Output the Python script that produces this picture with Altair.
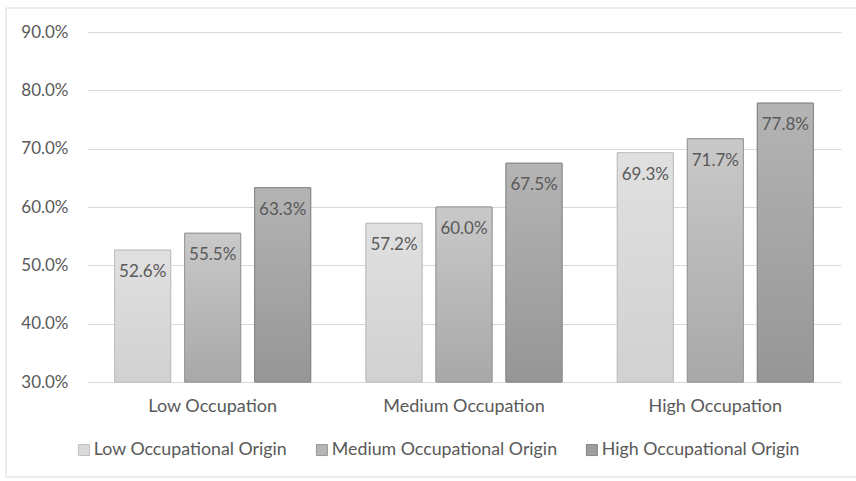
import altair as alt
import pandas as pd

# Share of respondents by occupation group and occupational origin
occupations = ["Low Occupation", "Medium Occupation", "High Occupation"]
origins = ["Low Occupational Origin", "Medium Occupational Origin", "High Occupational Origin"]
low_origin = [0.526, 0.572, 0.693]
medium_origin = [0.555, 0.600, 0.717]
high_origin = [0.633, 0.675, 0.778]
y_ticks = [0.3, 0.4, 0.5, 0.6, 0.7, 0.8, 0.9]

series = [low_origin, medium_origin, high_origin]
rows = []
for origin, values in zip(origins, series):
    for occ, v in zip(occupations, values):
        rows.append({"occupation": occ, "origin": origin, "share": v})
df = pd.DataFrame(rows)

FONT = "Lato"
TEXT_COLOR = "#595959"

# flat colours used by the legend, gradient fills used by the bars
legend_fill = ["#dadada", "#b5b5b5", "#9d9d9d"]
legend_stroke = ["#bdbdbd", "#979797", "#858585"]
bar_gradients = [
    ("#e0e0e0", "#d1d1d1", "#bfbfbf"),
    ("#c9c9c9", "#a8a8a8", "#999999"),
    ("#b4b4b4", "#969696", "#878787"),
]

x_enc = alt.X(
    "occupation:N",
    sort=occupations,
    title=None,
    scale=alt.Scale(paddingInner=0, paddingOuter=0),
    axis=alt.Axis(labelAngle=0, domain=False, ticks=False, labelPadding=15,
                  labelFontSize=18, labelFont=FONT, labelColor=TEXT_COLOR),
)
xoff_enc = alt.XOffset(
    "origin:N",
    sort=origins,
    scale=alt.Scale(domain=origins, paddingInner=0.2, paddingOuter=0.395),
)
y_enc = alt.Y(
    "share:Q",
    title=None,
    scale=alt.Scale(domain=[0.3, 0.9], zero=False, nice=False),
    axis=alt.Axis(values=y_ticks, format=".1%", domain=False, ticks=False,
                  labelPadding=19, labelFontSize=17, labelFont=FONT,
                  labelColor=TEXT_COLOR, gridColor="#d9d9d9", gridWidth=1),
)

base = alt.Chart(df)

# plain bars carrying the colour legend
legend_bars = base.mark_bar().encode(
    x=x_enc,
    xOffset=xoff_enc,
    y=y_enc,
    y2=alt.datum(0.3),
    color=alt.Color("origin:N", sort=origins, title=None,
                    scale=alt.Scale(domain=origins, range=legend_fill)),
    stroke=alt.Stroke("origin:N", sort=origins, title=None,
                      scale=alt.Scale(domain=origins, range=legend_stroke)),
)

# gradient-filled bars drawn over them, one layer per origin
gradient_layers = []
for origin, (top, bottom, edge) in zip(origins, bar_gradients):
    gradient_layers.append(
        base.transform_filter(alt.datum.origin == origin).mark_bar(
            fill=alt.Gradient(
                gradient="linear",
                stops=[alt.GradientStop(color=top, offset=0),
                       alt.GradientStop(color=bottom, offset=1)],
                x1=0, x2=0, y1=0, y2=1,
            ),
            stroke=edge,
            strokeWidth=1,
        ).encode(x=x_enc, xOffset=xoff_enc, y=y_enc, y2=alt.datum(0.3))
    )

labels = base.mark_text(
    dy=22, baseline="middle", align="center",
    font=FONT, fontSize=17, color=TEXT_COLOR,
).encode(
    x=x_enc,
    xOffset=xoff_enc,
    y=y_enc,
    text=alt.Text("share:Q", format=".1%"),
)

# light frame around the whole figure
frame_df = pd.DataFrame({"k": [0]})
frame_left = alt.Chart(frame_df).mark_rule(color="#d9d9d9", strokeWidth=1).encode(
    x=alt.value(-81), y=alt.value(-24), y2=alt.value(445))
frame_top = alt.Chart(frame_df).mark_rule(color="#d9d9d9", strokeWidth=1).encode(
    x=alt.value(-81), x2=alt.value(800), y=alt.value(-24))
frame_bottom = alt.Chart(frame_df).mark_rule(color="#d9d9d9", strokeWidth=1).encode(
    x=alt.value(-81), x2=alt.value(800), y=alt.value(445))

chart = alt.layer(
    legend_bars, *gradient_layers, labels, frame_left, frame_top, frame_bottom
).properties(
    width=754,
    height=350,
    autosize=alt.AutoSizeParams(type="none"),
    padding={"left": 87, "top": 32, "right": 15, "bottom": 99},
    background="white",
).configure_view(
    stroke=None
).configure_legend(
    orient="none",
    legendX=-12,
    legendY=409,
    direction="horizontal",
    columns=3,
    symbolType="square",
    symbolSize=121,
    symbolStrokeWidth=1,
    labelFont=FONT,
    labelFontSize=17.8,
    labelColor=TEXT_COLOR,
    labelOffset=1,
    labelLimit=0,
    columnPadding=25,
    padding=0,
)

chart.save("out.html", embed_options={"renderer": "svg", "actions": False})
